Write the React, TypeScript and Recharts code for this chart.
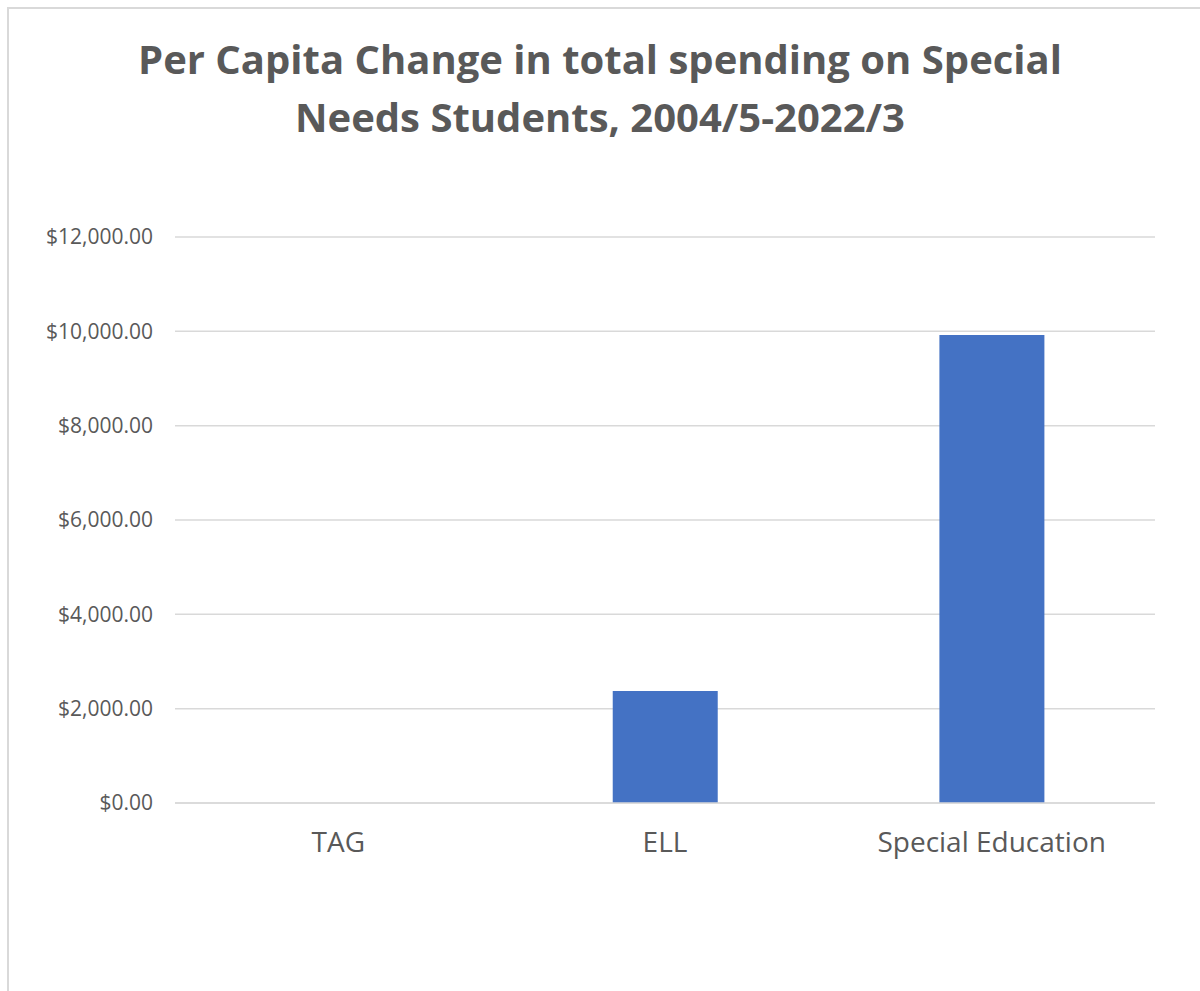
import { BarChart, Bar, XAxis, YAxis, CartesianGrid } from "recharts";

const categories = ["TAG", "ELL", "Special Education"];
const perCapitaChange = [0, 2375, 9920];
const yTicks = [0, 2000, 4000, 6000, 8000, 10000, 12000];

const data = categories.map((name, i) => ({ name, value: perCapitaChange[i] }));

const FONT = "'Open Sans', 'Noto Sans', sans-serif";
const TEXT = "#595959";

const fmtMoney = (v: number) =>
  "$" + v.toLocaleString("en-US", { minimumFractionDigits: 2, maximumFractionDigits: 2 });

export default function App() {
  return (
    <div style={{ position: "absolute", left: 0, top: 0, width: 1200, height: 991, background: "#fff", overflow: "hidden", fontFamily: FONT }}>
      <div
        style={{
          position: "absolute",
          left: 7,
          top: 7,
          width: 1200,
          height: 1000,
          border: "2px solid #d9d9d9",
          boxSizing: "border-box",
        }}
      />
      <div
        style={{
          position: "absolute",
          left: 0,
          top: 30,
          width: 1200,
          textAlign: "center",
          color: TEXT,
          fontWeight: 700,
          fontSize: 40,
          lineHeight: "58px",
        }}
      >
        Per Capita Change in total spending on Special
        <br />
        Needs Students, 2004/5-2022/3
      </div>
      <div style={{ position: "absolute", left: 0, top: 0 }}>
        <BarChart
          width={1200}
          height={991}
          data={data}
          margin={{ top: 237, right: 45, bottom: 128, left: 0 }}
          barCategoryGap="34%"
        >
          <CartesianGrid vertical={false} stroke="#d9d9d9" strokeWidth={1.5} />
          <XAxis
            dataKey="name"
            height={60}
            axisLine={{ stroke: "#d9d9d9", strokeWidth: 1.5 }}
            tickLine={false}
            tickSize={0}
            tickMargin={29}
            tick={{ fill: TEXT, fontSize: 28, fontFamily: FONT }}
          />
          <YAxis
            width={175}
            domain={[0, 12000]}
            ticks={yTicks}
            tickFormatter={fmtMoney}
            axisLine={false}
            tickLine={false}
            tickSize={0}
            tickMargin={22}
            tick={{ fill: TEXT, fontSize: 21, fontFamily: FONT }}
          />
          <Bar dataKey="value" fill="#4472c4" isAnimationActive={false} />
        </BarChart>
      </div>
    </div>
  );
}
